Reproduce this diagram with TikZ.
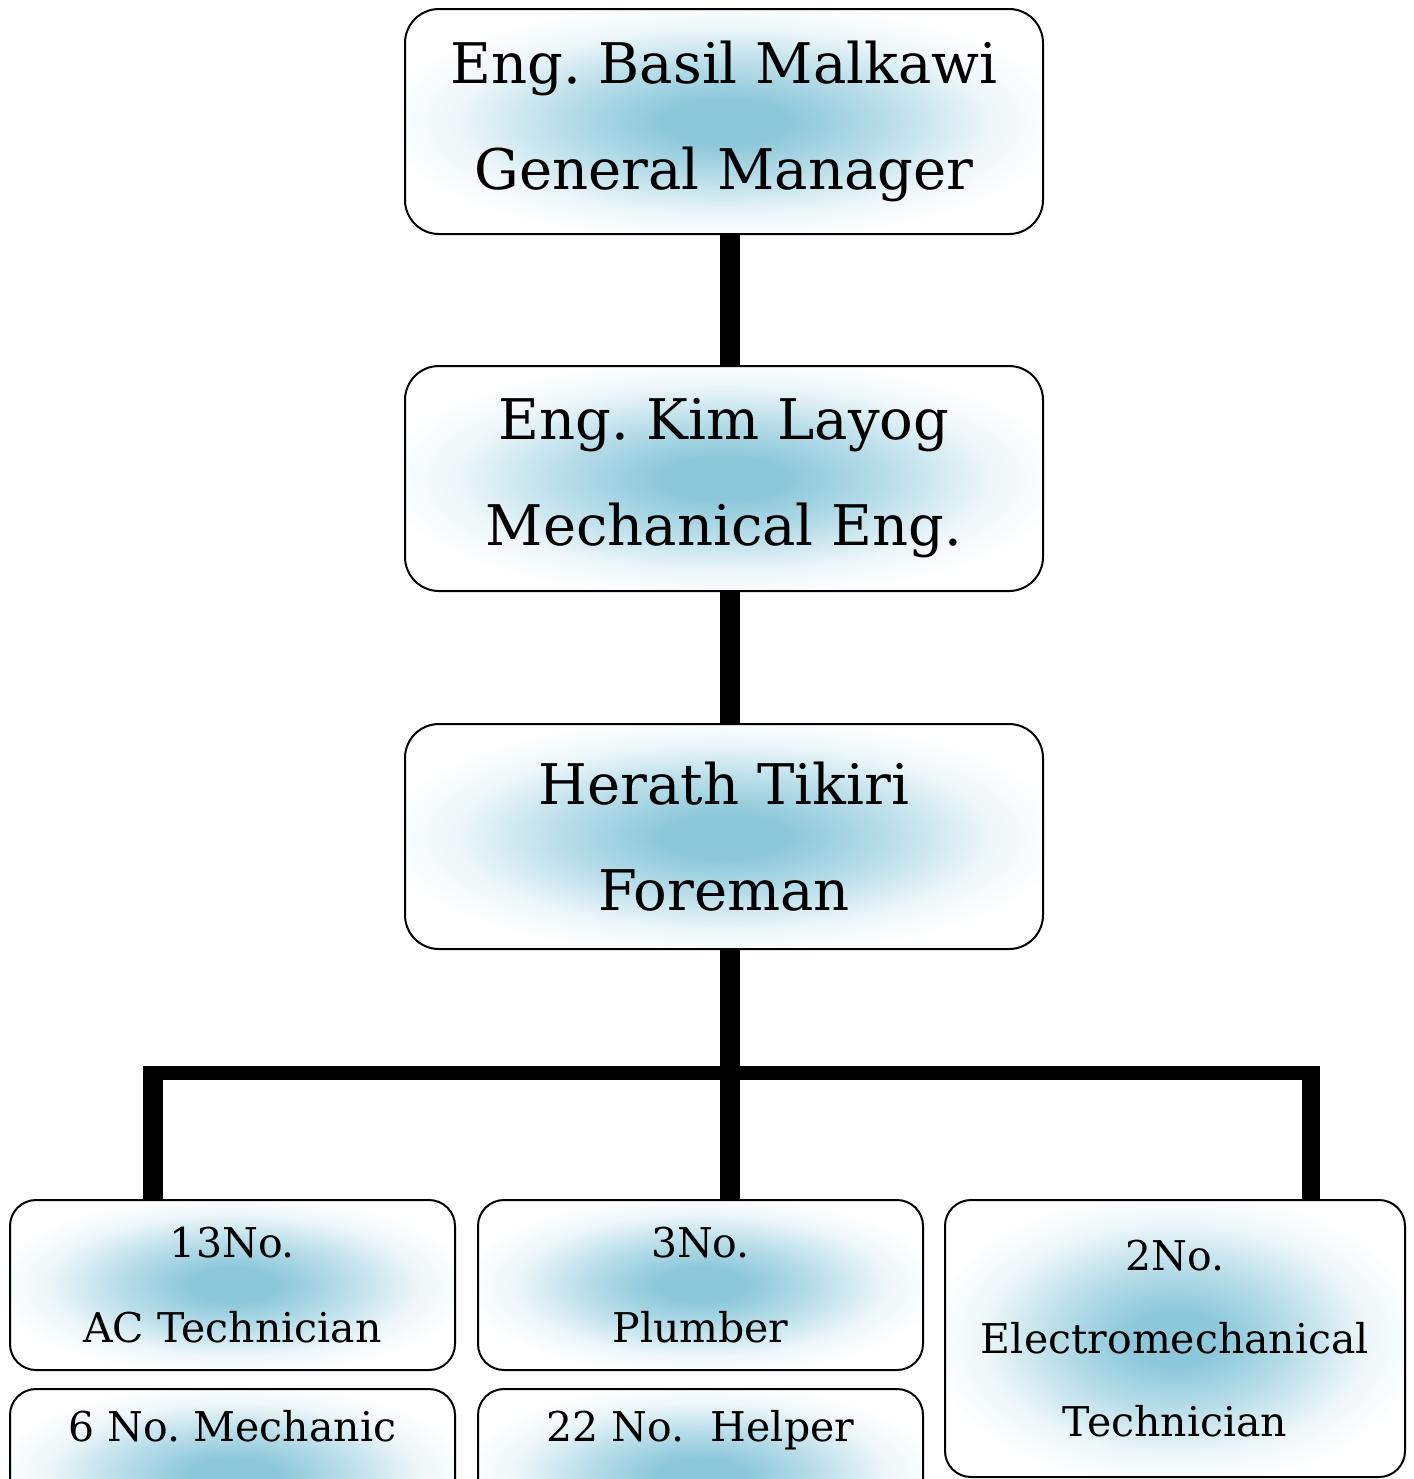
\documentclass[tikz,border=0pt]{standalone}
\usepackage{fontspec}
\setmainfont{DejaVu Serif}
\frenchspacing
\definecolor{glow}{RGB}{140,200,218}
\pgfdeclareradialshading{glowshade}{\pgfpoint{0bp}{0bp}}{color(0bp)=(glow); color(5bp)=(glow); color(13bp)=(glow!60); color(21bp)=(glow!15); color(27bp)=(white); color(50bp)=(white)}
\tikzset{
  mbox/.style={draw, line width=1pt, rounded corners=17pt, shading=glowshade, align=center,
    minimum width=319pt, minimum height=112.5pt, inner sep=0pt, font=\fontsize{28}{53}\selectfont},
  sbox/.style={draw, line width=1pt, rounded corners=13pt, shading=glowshade, align=center,
    minimum width=222.5pt, minimum height=85pt, inner sep=0pt, font=\fontsize{20.5}{42.5}\selectfont},
  hbox/.style={draw, line width=1pt, rounded corners=13pt, shading=glowshade, anchor=north,
    minimum width=222.5pt, inner sep=0pt, text height=26pt, text depth=60pt, font=\fontsize{20.5}{24}\selectfont},
  conn/.style={line width=10pt},
  connr/.style={line width=9pt},
  hbar/.style={line width=7pt}
}
\begin{document}
\begin{tikzpicture}[x=0.5pt,y=-0.5pt]
\useasboundingbox (0,0) rectangle (1414,1479);
\begin{scope}
\clip (0,0) rectangle (1414,1479);
\node[mbox] (gm) at (724,121.5) {Eng. Basil Malkawi\\General Manager};
\node[mbox] (me) at (724,478.5) {Eng. Kim Layog\\Mechanical Eng.};
\node[mbox] (fm) at (724,836.5) {Herath Tikiri\\Foreman};
\node[sbox] (ac) at (232.5,1285) {13No.\\AC Technician};
\node[sbox] (pl) at (700.5,1285) {3No.\\Plumber};
\node[sbox, minimum width=230pt, minimum height=138.5pt, font=\fontsize{20.5}{41.5}\selectfont] (el) at (1175,1338.5) {2No.\\Electromechanical\\Technician};
\node[hbox] (mc) at (232.5,1388) {6 No. Mechanic};
\node[hbox] (hp) at (700.5,1388) {22 No.\ \ Helper};
\coordinate (cx) at (730,0);
\coordinate (lt) at (153,1066);
\coordinate (rt) at (1311,1066);
\coordinate (bl) at (143,1073);
\coordinate (br) at (1320,1073);
\draw[conn] (gm.south -| cx) -- (me.north -| cx);
\draw[conn] (me.south -| cx) -- (fm.north -| cx);
\draw[conn] (fm.south -| cx) -- (pl.north -| cx);
\draw[hbar] (bl) -- (br);
\draw[conn] (lt) -- (lt |- ac.north);
\draw[connr] (rt) -- (rt |- el.north);
\end{scope}
\end{tikzpicture}
\end{document}
